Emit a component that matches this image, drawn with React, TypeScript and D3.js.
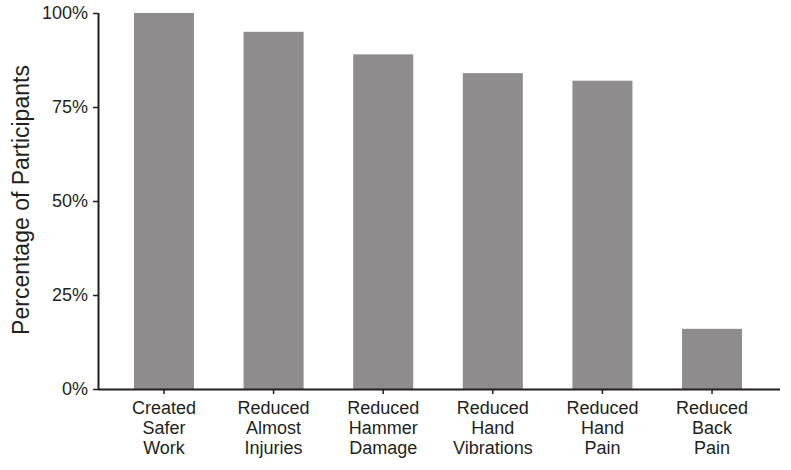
import * as d3 from "d3"
import { useEffect, useRef } from "react"

const categories = [
  ["Created", "Safer", "Work"],
  ["Reduced", "Almost", "Injuries"],
  ["Reduced", "Hammer", "Damage"],
  ["Reduced", "Hand", "Vibrations"],
  ["Reduced", "Hand", "Pain"],
  ["Reduced", "Back", "Pain"],
]
const values = [100, 95, 89, 84, 82, 16]
const yTicks = [0, 25, 50, 75, 100]

export default function App() {
  const ref = useRef<SVGSVGElement>(null)

  useEffect(() => {
    const svg = d3.select(ref.current)
    svg.selectAll("*").remove()

    const W = 791, H = 470
    const margin = { top: 13, right: 13, bottom: 81, left: 98 }
    const width = W - margin.left - margin.right
    const height = H - margin.top - margin.bottom
    const ink = "#231f20"
    const font = "Liberation Sans, Arial, Helvetica, sans-serif"

    const keys = categories.map(c => c.join(" "))

    const x = d3.scaleBand()
      .domain(keys)
      .range([0, width])
      .paddingInner(0.4526)
      .paddingOuter(0.328)

    const y = d3.scaleLinear().domain([0, 100]).range([height, 0])

    const g = svg.append("g")
      .attr("transform", "translate(" + margin.left + "," + margin.top + ")")

    g.selectAll("rect").data(values)
      .enter().append("rect")
      .attr("x", (d, i) => x(keys[i])!)
      .attr("width", x.bandwidth())
      .attr("y", d => y(d))
      .attr("height", d => height - y(d))
      .attr("fill", "#8e8c8d")

    // y axis
    const yAxis = g.append("g")
      .call(d3.axisLeft(y).tickValues(yTicks).tickFormat(d => d + "%").tickSize(5).tickPadding(5))
    yAxis.select(".domain").attr("stroke", ink).attr("stroke-width", 2).attr("d", "M0.5," + (height + 1) + "V0")
    yAxis.selectAll(".tick line").attr("stroke", ink).attr("stroke-width", 1.5)
    yAxis.selectAll("text").attr("fill", ink).style("font-family", font).style("font-size", "18px")

    // x axis
    const xAxis = g.append("g")
      .attr("transform", "translate(0," + height + ")")
      .call(d3.axisBottom(x).tickSize(5).tickFormat(() => ""))
    xAxis.select(".domain").attr("stroke", ink).attr("stroke-width", 2).attr("d", "M0," + 0.5 + "H" + (width + 2))
    xAxis.selectAll(".tick line").attr("stroke", ink).attr("stroke-width", 1.5)

    xAxis.selectAll(".tick").each(function (d, i) {
      const t = d3.select(this).append("text")
        .attr("fill", ink)
        .attr("text-anchor", "middle")
        .style("font-family", font)
        .style("font-size", "18px")
      categories[i].forEach((line, j) => {
        t.append("tspan").attr("x", 0).attr("y", 25 + j * 20).text(line)
      })
    })

    svg.append("text")
      .attr("transform", "translate(29,200) rotate(-90)")
      .attr("text-anchor", "middle")
      .attr("fill", ink)
      .style("font-family", font)
      .style("font-size", "23px")
      .text("Percentage of Participants")
  }, [])

  return (
    <svg ref={ref} width={791} height={470} style={{ position: "absolute", left: 0, top: 0, background: "#fff" }} />
  )
}
